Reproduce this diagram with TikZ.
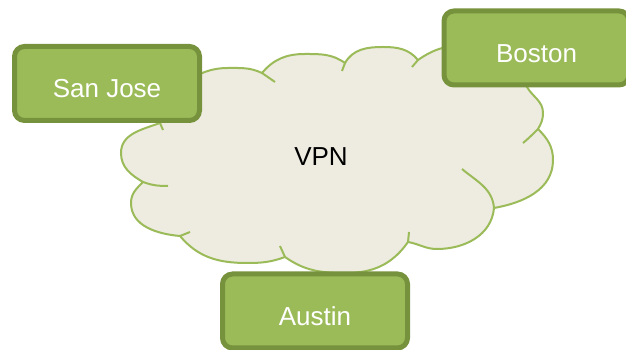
\documentclass[tikz,border=0pt]{standalone}
\usepackage{fontspec}
\setmainfont{Liberation Sans}
\usepackage{tikz}
\usetikzlibrary{positioning}
\definecolor{OGreen}{HTML}{9BBB59}
\definecolor{ODark}{HTML}{76923C}
\definecolor{OCloud}{HTML}{EEECE1}
\tikzset{
    site/.style = {draw=ODark, fill=OGreen, line width=5pt, rounded corners=10pt,
        minimum width=185pt, minimum height=74pt, text=white,
        text height=30pt, text depth=1.4pt,
        font=\fontsize{26}{31}\selectfont},
    cloudline/.style = {draw=OGreen, line width=2pt},
    label/.style = {font=\fontsize{26}{31}\selectfont}
}
\begin{document}
\begin{tikzpicture}[x=1pt,y=1pt]
                \useasboundingbox (0,0) rectangle (626,350);
                % cloud
                \filldraw[cloudline, fill=OCloud] (160,227)
                    to[out=200,in=90] (121,197) to[out=270,in=150] (143,168)
                    to[out=225,in=90] (131,147) to[out=270,in=175] (180,114)
                    to[out=310,in=180] (247,87) to[out=0,in=200] (285,93)
                    to[out=325,in=180] (346,77) to[out=0,in=235] (408,108)
                    to[out=350,in=180] (437,101) to[out=0,in=265] (494,142)
                    to[out=10,in=270] (553,190) to[out=90,in=315] (538,221)
                    to[out=60,in=270] (543,237) to[out=90,in=300] (527,263)
                    to[out=120,in=0] (470,305) to[out=180,in=35] (418,290)
                    to[out=130,in=0] (383,303) to[out=180,in=60] (345,287)
                    to[out=145,in=0] (305,296) to[out=180,in=50] (262,277)
                    to[out=155,in=0] (228,282) to[out=180,in=70] cycle;
                \draw[cloudline] (160,227) -- (163,220);
                \draw[cloudline] (143,168) to[out=-20,in=180] (168,164);
                \draw[cloudline] (180,114) -- (190,118);
                \draw[cloudline] (285,93) -- (280,104);
                \draw[cloudline] (408,108) -- (409,118);
                \draw[cloudline] (494,142) to[out=95,in=-40] (462,181);
                \draw[cloudline] (538,221) to[out=225,in=40] (523,207);
                \draw[cloudline] (418,290) -- (412,283);
                \draw[cloudline] (345,287) -- (342,279);
                \draw[cloudline] (262,277) -- (275,268);
                \node[label] (vpn) at (321,193) {VPN};
                % sites
                \node[site] (sanjose) at (107,266.5) {San Jose};
                \node[site] (boston) at (536.5,302) {Boston};
                \node[site] (austin) at (315,39) {Austin};
            \end{tikzpicture}
\end{document}
